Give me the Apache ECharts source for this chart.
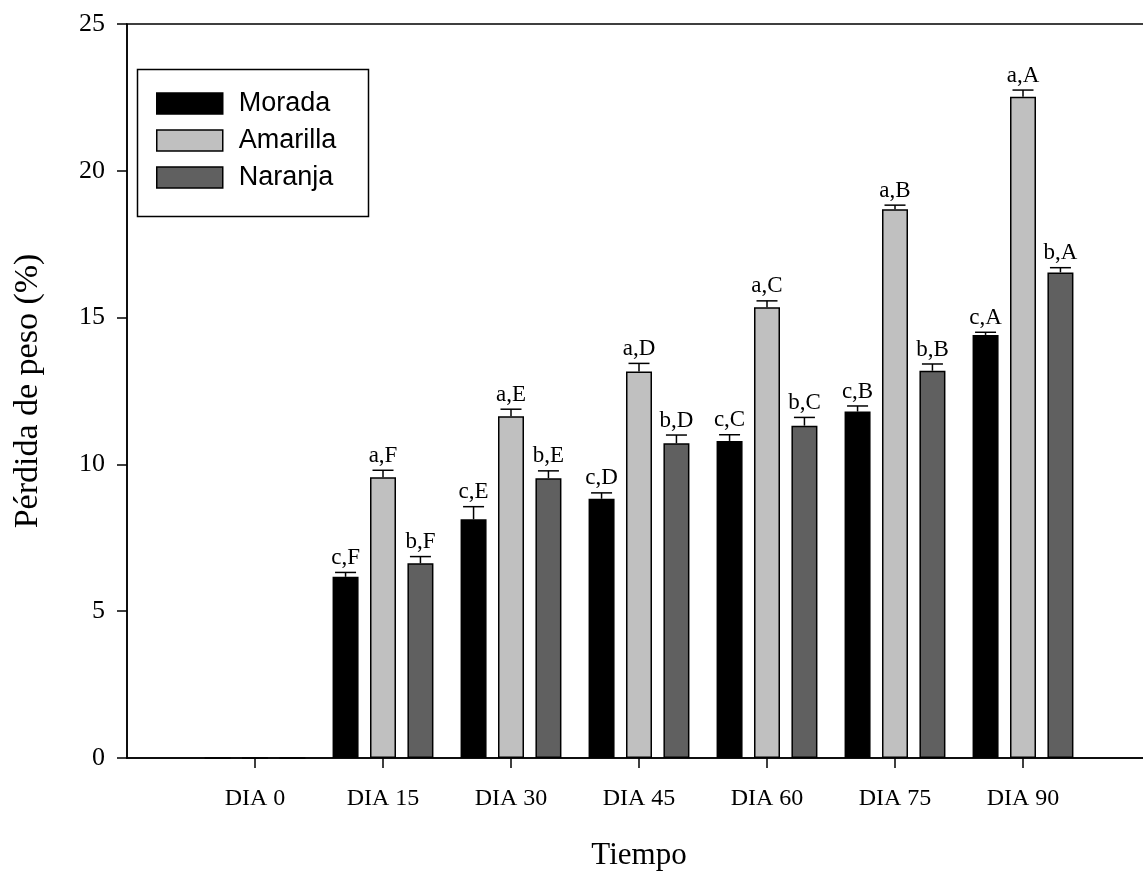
<!DOCTYPE html>
<html>
<head>
<meta charset="utf-8">
<script src="https://cdn.jsdelivr.net/npm/echarts@6/dist/echarts.min.js"></script>
<style>
html,body{margin:0;padding:0;background:#fff;}
#c{width:1143px;height:878px;}
</style>
</head>
<body>
<div id="c"></div>
<script>
const categories = ['DIA 0','DIA 15','DIA 30','DIA 45','DIA 60','DIA 75','DIA 90'];
const seriesNames = ['Morada','Amarilla','Naranja'];
const morada   = [0, 6.17, 8.13, 8.83, 10.80, 11.80, 14.41];
const amarilla = [0, 9.56, 11.64, 13.16, 15.35, 18.69, 22.52];
const naranja  = [0, 6.63, 9.53, 10.72, 11.32, 13.19, 16.54];
const moradaErr   = [0, 0.15, 0.43, 0.20, 0.21, 0.19, 0.09];
const amarillaErr = [0, 0.24, 0.24, 0.28, 0.22, 0.14, 0.23];
const naranjaErr  = [0, 0.23, 0.25, 0.28, 0.28, 0.23, 0.16];
const moradaLbl   = ['', 'c,F','c,E','c,D','c,C','c,B','c,A'];
const amarillaLbl = ['', 'a,F','a,E','a,D','a,C','a,B','a,A'];
const naranjaLbl  = ['', 'b,F','b,E','b,D','b,C','b,B','b,A'];
const yTicks = [0, 5, 10, 15, 20, 25];

const colors = ['#000000', '#c0c0c0', '#606060'];
const BAR_W = 26, GAP_PCT = 44;
const step = BAR_W * (1 + GAP_PCT / 100);

const pad = arr => [null].concat(arr).concat([null]);
const xCats = [''].concat(categories).concat(['']);
const values = [morada, amarilla, naranja];
const errs = [moradaErr, amarillaErr, naranjaErr];
const lbls = [moradaLbl, amarillaLbl, naranjaLbl];

const serif = 'Liberation Serif';
const sans = 'Liberation Sans';

const barSeries = seriesNames.map((n, i) => ({
  name: n,
  type: 'bar',
  data: pad(values[i]),
  barWidth: BAR_W,
  barGap: GAP_PCT + '%',
  itemStyle: { color: colors[i], borderColor: '#000', borderWidth: 1.5 },
  emphasis: { disabled: true },
  z: 2
}));

const errSeries = seriesNames.map((n, i) => ({
  type: 'custom',
  silent: true,
  z: 3,
  data: values[i].map((v, k) => [k + 1, v, errs[i][k], lbls[i][k]]),
  renderItem: function (params, api) {
    const lbl = api.value(3);
    const v = api.value(1);
    const e = api.value(2);
    if (!lbl) return null;
    const off = (i - 1) * step;
    const base = api.coord([api.value(0), v]);
    const top = api.coord([api.value(0), v + e]);
    const x = base[0] + off;
    const cap = 10.5;
    return {
      type: 'group',
      children: [
        { type: 'line', shape: { x1: x, y1: base[1], x2: x, y2: top[1] }, style: { stroke: '#000', lineWidth: 1.5 } },
        { type: 'line', shape: { x1: x - cap, y1: top[1], x2: x + cap, y2: top[1] }, style: { stroke: '#000', lineWidth: 1.5 } },
        { type: 'text', x: x, y: top[1] - 3, style: { text: lbl, fill: '#000', font: '23px "' + serif + '"', align: 'center', verticalAlign: 'bottom' } }
      ]
    };
  }
}));

const chart = echarts.init(document.getElementById('c'), null, { renderer: 'canvas' });
chart.setOption({
  animation: false,
  backgroundColor: '#fff',
  grid: { left: 127, top: 24, width: 1024, bottom: 120, outerBoundsMode: 'none', containLabel: false, show: true, borderColor: '#000', borderWidth: 1.5, backgroundColor: 'transparent' },
  legend: {
    data: seriesNames,
    orient: 'vertical',
    left: 156,
    top: 90,
    itemWidth: 66,
    itemHeight: 21,
    itemGap: 10,
    icon: 'rect',
    padding: 0,
    itemStyle: { borderColor: '#000', borderWidth: 1.5 },
    textStyle: { fontFamily: sans, fontSize: 27, color: '#000', padding: [0, 0, 0, 11] }
  },
  graphic: [
    { type: 'rect', left: 135, top: 67, shape: { width: 231, height: 147 }, style: { fill: 'none', stroke: '#000', lineWidth: 1.5 }, z: 10 }
  ],
  xAxis: {
    type: 'category',
    data: xCats,
    boundaryGap: false,
    name: 'Tiempo',
    nameLocation: 'middle',
    nameGap: 82,
    nameTextStyle: { fontFamily: serif, fontSize: 31, color: '#000' },
    axisLine: { lineStyle: { color: '#000', width: 1.5 } },
    axisTick: { show: true, length: 10, lineStyle: { color: '#000', width: 1.5 }, interval: (idx, val) => val !== '' },
    axisLabel: { interval: 0, margin: 29, fontFamily: serif, fontSize: 24, color: '#000' },
    splitLine: { show: false }
  },
  yAxis: {
    type: 'value',
    min: yTicks[0],
    max: yTicks[yTicks.length - 1],
    interval: yTicks[1] - yTicks[0],
    name: 'Pérdida de peso (%)',
    nameLocation: 'middle',
    nameGap: 82,
    nameRotate: 90,
    nameTextStyle: { fontFamily: serif, fontSize: 34, color: '#000' },
    axisLine: { show: true, lineStyle: { color: '#000', width: 1.5 } },
    axisTick: { show: true, length: 10, lineStyle: { color: '#000', width: 1.5 } },
    axisLabel: { margin: 22, fontFamily: serif, fontSize: 26, color: '#000' },
    splitLine: { show: false }
  },
  series: barSeries.concat(errSeries)
});
</script>
</body>
</html>
